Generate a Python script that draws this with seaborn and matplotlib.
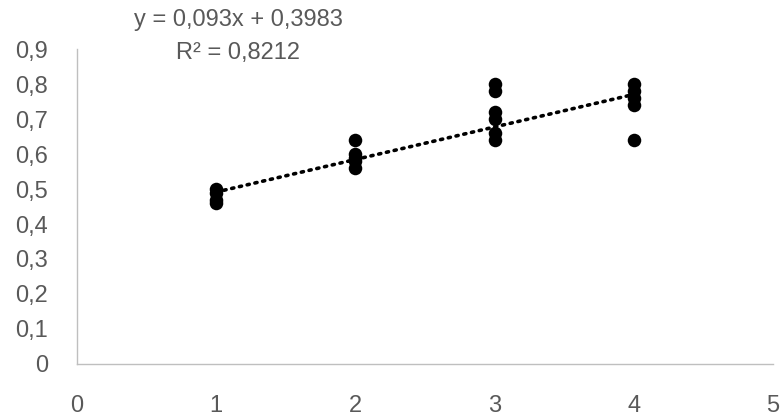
import numpy as np
import pandas as pd
import seaborn as sns
import matplotlib.pyplot as plt
from matplotlib.ticker import FuncFormatter

# Measurements per level
level_1 = [0.50, 0.49, 0.47, 0.46]
level_2 = [0.64, 0.60, 0.59, 0.58, 0.56]
level_3 = [0.80, 0.78, 0.72, 0.70, 0.66, 0.64]
level_4 = [0.80, 0.78, 0.76, 0.74, 0.64]
levels = [1, 2, 3, 4]

# Linear trend reported on the chart
slope = 0.093
intercept = 0.3983
r_squared = 0.8212

x_ticks = [0, 1, 2, 3, 4, 5]
y_ticks = [0, 0.1, 0.2, 0.3, 0.4, 0.5, 0.6, 0.7, 0.8, 0.9]

groups = [level_1, level_2, level_3, level_4]
df = pd.DataFrame({
    "x": np.concatenate([[lv] * len(g) for lv, g in zip(levels, groups)]),
    "y": np.concatenate(groups),
})
trend = pd.DataFrame({"x": [levels[0], levels[-1]]})
trend["y"] = slope * trend["x"] + intercept

sns.set_theme(style="white")
plt.rcParams["font.family"] = ["Liberation Sans", "DejaVu Sans"]

fig = plt.figure(figsize=(7.81, 4.19), dpi=100)
ax = fig.add_axes([0.0986, 0.1313, 0.8912, 0.7517])

text_gray = "#595959"
axis_gray = "#bfbfbf"
fs = 17

sns.lineplot(data=trend, x="x", y="y", ax=ax, color="black", lw=2.6,
             linestyle=(0, (0.6, 1.6)), dash_capstyle="round", zorder=2)
sns.scatterplot(data=df, x="x", y="y", ax=ax, color="black", s=95,
                edgecolor="black", linewidth=0, zorder=3)

ax.set_xlim(0, 5)
ax.set_ylim(0, 0.9)
ax.set_xticks(x_ticks)
ax.set_yticks(y_ticks)
comma = FuncFormatter(lambda v, _: ("%g" % round(v, 2)).replace(".", ","))
ax.xaxis.set_major_formatter(comma)
ax.yaxis.set_major_formatter(comma)
ax.set_xlabel("")
ax.set_ylabel("")
ax.tick_params(axis="both", length=0, labelsize=fs, labelcolor=text_gray)
ax.tick_params(axis="x", pad=22)
ax.tick_params(axis="y", pad=21)

for side in ("top", "right"):
    ax.spines[side].set_visible(False)
for side in ("left", "bottom"):
    ax.spines[side].set_color(axis_gray)
    ax.spines[side].set_linewidth(1.0)

eq = f"y = {slope:.3f}x + {intercept:.4f}".replace(".", ",")
r2 = f"R² = {r_squared:.4f}".replace(".", ",")
fig.text(238 / 781, 1 - 20 / 419, eq, ha="center", va="center",
         fontsize=fs, color=text_gray)
fig.text(238 / 781, 1 - 53 / 419, r2, ha="center", va="center",
         fontsize=fs, color=text_gray)

fig.savefig("out.png", dpi=100)
